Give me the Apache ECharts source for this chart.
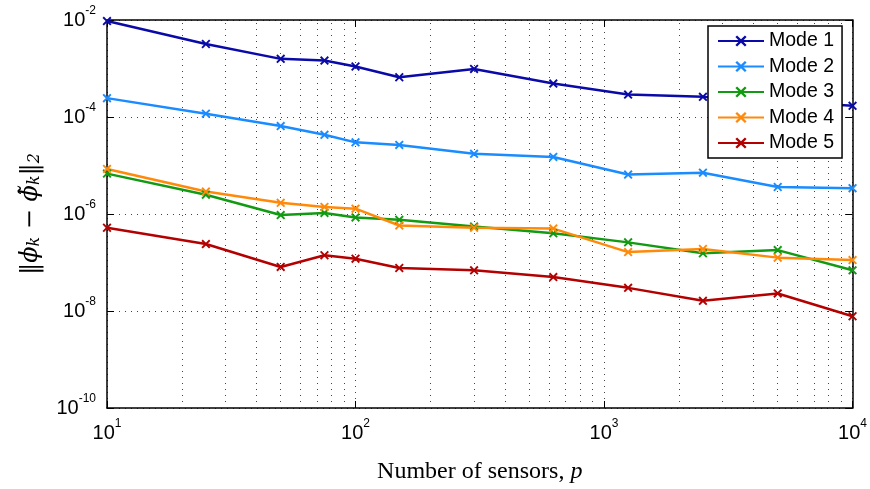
<!DOCTYPE html>
<html>
<head>
<meta charset="utf-8">
<script src="https://cdn.jsdelivr.net/npm/echarts@6/dist/echarts.min.js"></script>
<style>
html, body { margin: 0; padding: 0; background: #fff; }
#main { width: 870px; height: 489px; }
</style>
</head>
<body>
<div id="main"></div>
<script>
// number of sensors p
var sensors = [10, 25, 50, 75, 100, 150, 300, 625, 1250, 2500, 5000, 10000];
// error per mode
var mode1 = [9.5e-3, 3.2e-3, 1.58e-3, 1.46e-3, 1.1e-3, 6.6e-4, 9.8e-4, 4.9e-4, 2.9e-4, 2.6e-4, 2.1e-4, 1.7e-4];
var mode2 = [2.45e-4, 1.17e-4, 6.5e-5, 4.3e-5, 3.0e-5, 2.65e-5, 1.74e-5, 1.5e-5, 6.5e-6, 7.1e-6, 3.6e-6, 3.4e-6];
var mode3 = [6.8e-6, 2.5e-6, 9.5e-7, 1.05e-6, 8.5e-7, 7.6e-7, 5.5e-7, 4.0e-7, 2.6e-7, 1.55e-7, 1.8e-7, 6.9e-8];
var mode4 = [8.5e-6, 2.9e-6, 1.7e-6, 1.4e-6, 1.29e-6, 5.8e-7, 5.2e-7, 5.0e-7, 1.64e-7, 1.9e-7, 1.26e-7, 1.12e-7];
var mode5 = [5.2e-7, 2.4e-7, 8.1e-8, 1.41e-7, 1.2e-7, 7.7e-8, 6.9e-8, 5.0e-8, 3.0e-8, 1.62e-8, 2.3e-8, 7.8e-9];
var modeNames = ['Mode 1', 'Mode 2', 'Mode 3', 'Mode 4', 'Mode 5'];
var modeColors = ['#0a0aa8', '#1a8cff', '#139a13', '#ff8a0a', '#b30000'];
// minor grid positions on the x axis
var xMinor = [20, 30, 40, 50, 60, 70, 80, 90, 200, 300, 400, 500, 600, 700, 800, 900, 2000, 3000, 4000, 5000, 6000, 7000, 8000, 9000];

var crossPath = 'path://M0,1.5L1.5,0L5,3.5L8.5,0L10,1.5L6.5,5L10,8.5L8.5,10L5,6.5L1.5,10L0,8.5L3.5,5Z';
var dotted = { color: '#444', width: 1, type: [1, 5] };

function powLabel(v) {
	var e = Math.round(Math.log10(v));
	return '{b|10}{s|' + e + '}';
}
var powRich = {
	b: { fontFamily: 'Liberation Sans', fontSize: 20, color: '#000' },
	s: { fontFamily: 'Liberation Sans', fontSize: 12, color: '#000', padding: [0, 0, 18, 0] }
};

var allModes = [mode1, mode2, mode3, mode4, mode5];
var series = [];
for (var i = 0; i < allModes.length; i++) {
	var pts = [];
	for (var j = 0; j < sensors.length; j++) pts.push([sensors[j], allModes[i][j]]);
	series.push({
		name: modeNames[i],
		type: 'line',
		data: pts,
		symbol: crossPath,
		symbolSize: 9,
		lineStyle: { width: 2.5, color: modeColors[i] },
		itemStyle: { color: modeColors[i] },
		z: 3
	});
}
// dotted vertical grid at minor positions
var mlData = [];
for (var k = 0; k < xMinor.length; k++) mlData.push({ xAxis: xMinor[k] });
series[0].markLine = {
	silent: true,
	symbol: 'none',
	label: { show: false },
	lineStyle: dotted,
	data: mlData,
	z: 1
};

var chart = echarts.init(document.getElementById('main'));
chart.setOption({
	animation: false,
	grid: { left: 107, right: 17, top: 20, bottom: 80 },
	legend: {
		left: 708,
		top: 26,
		z: 20,
		orient: 'vertical',
		backgroundColor: '#fff',
		borderColor: '#000',
		borderWidth: 1.5,
		padding: [5, 8, 5, 9],
		itemWidth: 46,
		itemHeight: 14,
		itemGap: 5.5,
		textStyle: { fontFamily: 'Liberation Sans', fontSize: 19.5, color: '#000' },
		data: modeNames
	},
	xAxis: [
		{
			type: 'log',
			logBase: 10,
			min: 10,
			max: 10000,
			name: '{n|Number of sensors, }{i|p}',
			nameLocation: 'middle',
			nameGap: 52,
			nameTextStyle: {
				rich: {
					n: { fontFamily: 'Liberation Serif', fontSize: 24, color: '#000' },
					i: { fontFamily: 'Liberation Serif', fontStyle: 'italic', fontSize: 24, color: '#000' }
				}
			},
			axisLine: { lineStyle: { color: '#000', width: 1.5 } },
			axisTick: { inside: true, length: 7, lineStyle: { color: '#000' } },
			axisLabel: { formatter: powLabel, rich: powRich, margin: 10 },
			splitLine: { show: true, lineStyle: dotted }
		},
		{
			type: 'log',
			logBase: 10,
			min: 10,
			max: 10000,
			position: 'top',
			axisLine: { lineStyle: { color: '#000', width: 1.5 } },
			axisTick: { inside: true, length: 7, lineStyle: { color: '#000' } },
			axisLabel: { show: false },
			splitLine: { show: false }
		}
	],
	yAxis: [
		{
			type: 'log',
			logBase: 10,
			min: 1e-10,
			max: 1e-2,
			interval: 2,
			name: '‖{i|ϕ}{k|k} − {i|ϕ̃}{k|k}‖{k|2}',
			nameLocation: 'middle',
			nameRotate: 90,
			nameGap: 64,
			nameTextStyle: {
				fontFamily: 'DejaVu Serif',
				fontSize: 24,
				color: '#000',
				rich: {
					i: { fontFamily: 'DejaVu Serif', fontStyle: 'italic', fontSize: 24, color: '#000' },
					k: { fontFamily: 'DejaVu Serif', fontStyle: 'italic', fontSize: 16, color: '#000', padding: [9, 0, 0, 0] }
				}
			},
			axisLine: { show: true, lineStyle: { color: '#000', width: 1.5 } },
			axisTick: { inside: true, length: 7, lineStyle: { color: '#000' } },
			axisLabel: { formatter: powLabel, rich: powRich, margin: 11 },
			splitLine: { show: true, lineStyle: dotted }
		},
		{
			type: 'log',
			logBase: 10,
			min: 1e-10,
			max: 1e-2,
			interval: 2,
			position: 'right',
			axisLine: { show: true, lineStyle: { color: '#000', width: 1.5 } },
			axisTick: { inside: true, length: 7, lineStyle: { color: '#000' } },
			axisLabel: { show: false },
			splitLine: { show: false }
		}
	],
	series: series
});
</script>
</body>
</html>
